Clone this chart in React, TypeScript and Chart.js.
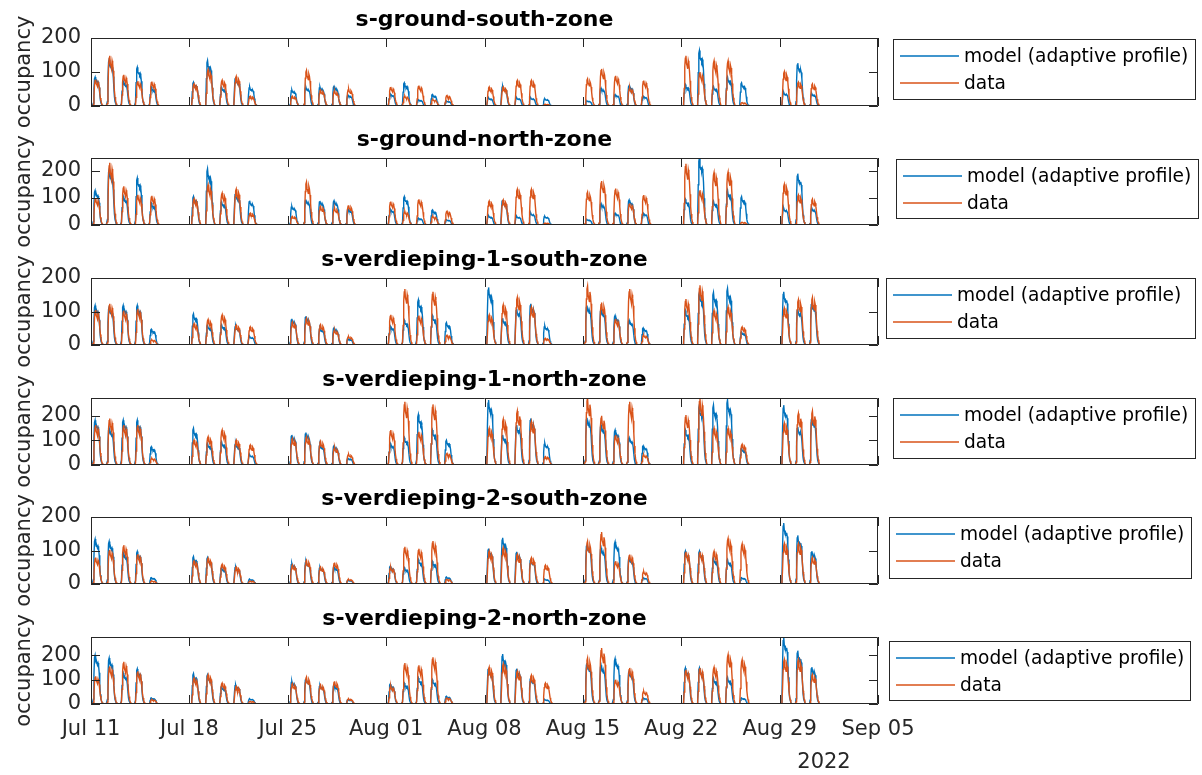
import React, { useEffect, useRef } from "react";
import { Chart, registerables } from "chart.js";

Chart.register(...registerables);

// ---------------- data ----------------
const panelTitles = [
  "s-ground-south-zone",
  "s-ground-north-zone",
  "s-verdieping-1-south-zone",
  "s-verdieping-1-north-zone",
  "s-verdieping-2-south-zone",
  "s-verdieping-2-north-zone",
];
const seriesLabels = ["model (adaptive profile)", "data"];
const yAxisLabel = "occupancy";
const xTickLabels = ["Jul 11", "Jul 18", "Jul 25", "Aug 01", "Aug 08", "Aug 15", "Aug 22", "Aug 29", "Sep 05"];
const yearLabel = "2022";
const yTickStep = 100;
const yLimits = [200, 248, 200, 272, 200, 275];

// day index (days since Jul 11) of each working day that has occupancy
const workDays = [0, 1, 2, 3, 4, 7, 8, 9, 10, 11, 14, 15, 16, 17, 18, 21, 22, 23, 24, 25, 28, 29, 30, 31, 32, 35, 36, 37, 38, 39, 42, 43, 44, 45, 46, 49, 50, 51];

// typical hourly shape of a day (fraction of that day's peak), read from the humps
const hourProfileModel = [0, 0, 0, 0, 0.1, 0.6, 0.95, 1.0, 0.88, 0.84, 0.85, 0.8, 0.84, 0.78, 0.64, 0.4, 0.2, 0.1, 0.06, 0.03, 0, 0, 0, 0];
const hourProfileData = [0, 0, 0, 0, 0.05, 0.35, 0.78, 0.95, 1.0, 0.84, 0.8, 0.74, 0.9, 0.84, 0.7, 0.5, 0.3, 0.18, 0.1, 0.05, 0, 0, 0, 0];

// daily peaks per panel
const groundSouthModel = [85, 136, 73, 114, 56, 70, 134, 56, 84, 56, 47, 55, 56, 58, 32, 36, 68, 19, 34, 15, 24, 58, 24, 24, 21, 15, 53, 34, 60, 29, 63, 163, 58, 86, 68, 40, 126, 36];
const groundSouthData = [78, 148, 92, 73, 72, 65, 107, 76, 87, 29, 29, 105, 47, 44, 50, 56, 29, 60, 19, 31, 56, 56, 75, 75, 5, 80, 109, 89, 53, 75, 148, 100, 133, 133, 10, 101, 70, 65];

const groundNorthModel = [128, 205, 106, 174, 81, 106, 208, 87, 118, 90, 69, 94, 89, 90, 59, 59, 105, 26, 56, 20, 34, 93, 32, 44, 32, 20, 80, 44, 93, 44, 95, 248, 89, 129, 105, 62, 190, 62];
const groundNorthData = [100, 230, 143, 112, 108, 97, 149, 118, 133, 44, 32, 159, 69, 62, 73, 87, 50, 95, 32, 51, 89, 93, 132, 132, 7, 122, 163, 135, 80, 111, 227, 129, 194, 196, 10, 151, 111, 96];

const v1SouthModel = [118, 113, 118, 118, 47, 93, 59, 61, 57, 25, 78, 86, 49, 51, 18, 57, 74, 135, 88, 67, 172, 80, 108, 123, 57, 118, 106, 88, 74, 51, 103, 157, 157, 169, 39, 159, 108, 127];
const v1SouthData = [105, 123, 103, 108, 15, 64, 76, 90, 59, 54, 69, 80, 61, 44, 25, 90, 167, 88, 159, 29, 90, 120, 142, 113, 20, 176, 127, 78, 167, 29, 137, 178, 103, 113, 54, 110, 135, 142];

const v1NorthModel = [182, 149, 182, 182, 74, 149, 88, 95, 88, 41, 122, 132, 81, 78, 27, 88, 111, 205, 142, 101, 264, 122, 162, 189, 88, 192, 162, 142, 111, 78, 142, 243, 243, 264, 68, 243, 155, 192];
const v1NorthData = [162, 189, 162, 162, 27, 101, 115, 142, 101, 81, 108, 115, 97, 70, 43, 142, 257, 135, 246, 47, 149, 186, 219, 176, 34, 272, 200, 122, 257, 41, 203, 270, 149, 149, 84, 169, 209, 219];

const v2SouthModel = [134, 127, 94, 97, 19, 82, 79, 49, 51, 14, 61, 66, 49, 51, 11, 53, 49, 73, 68, 21, 106, 138, 96, 73, 14, 118, 108, 126, 78, 19, 98, 98, 78, 73, 19, 182, 145, 98];
const v2SouthData = [79, 102, 116, 89, 9, 69, 77, 59, 51, 9, 57, 71, 51, 64, 14, 49, 111, 105, 128, 14, 98, 108, 88, 78, 56, 128, 155, 68, 88, 37, 96, 96, 98, 136, 120, 120, 120, 80];

const v2NorthModel = [200, 189, 127, 144, 25, 125, 120, 73, 79, 21, 93, 103, 75, 77, 18, 82, 86, 107, 100, 32, 148, 205, 145, 107, 18, 168, 159, 186, 134, 25, 148, 148, 107, 110, 25, 274, 219, 151];
const v2NorthData = [114, 155, 173, 134, 18, 107, 120, 86, 73, 11, 84, 111, 79, 93, 21, 73, 168, 159, 192, 25, 151, 164, 134, 118, 86, 189, 230, 100, 148, 52, 141, 148, 151, 203, 182, 182, 182, 121];

const modelPeaks = [groundSouthModel, groundNorthModel, v1SouthModel, v1NorthModel, v2SouthModel, v2NorthModel];
const dataPeaks = [groundSouthData, groundNorthData, v1SouthData, v1NorthData, v2SouthData, v2NorthData];

// ---------------- layout / style ----------------
const W = 1202;
const H = 775;
const PLOT_LEFT = 91;
const PLOT_RIGHT = 878;
const TITLE_SPACE = 38;
const plotTops = [38, 158, 278, 398, 517, 637];
const plotHeights = [68, 67, 67, 67, 67, 67];
const legendBoxes = [
  [893, 39, 1196, 100],
  [896, 159, 1199, 219],
  [886, 278, 1196, 339],
  [893, 398, 1196, 459],
  [889, 517, 1192, 579],
  [889, 641, 1191, 701],
];
const FONT = '"DejaVu Sans", "Liberation Sans", sans-serif';
const BLUE = "#0072BD";
const ORANGE = "#D95319";
const AXIS_COLOR = "#262626";
const TICK_LEN = 9;

function buildSeries(peaks: number[], profile: number[]) {
  const pts: { x: number; y: number }[] = [];
  const lastDay = workDays[workDays.length - 1] + 1;
  for (let d = 0; d < lastDay; d++) {
    const k = workDays.indexOf(d);
    for (let h = 0; h < 24; h++) {
      pts.push({ x: d + h / 24, y: k >= 0 ? peaks[k] * profile[h] : 0 });
    }
  }
  pts.push({ x: lastDay, y: 0 });
  return pts;
}

function Panel({ index }: { index: number }) {
  const ref = useRef<HTMLCanvasElement>(null);
  const isLast = index === panelTitles.length - 1;
  const canvasTop = plotTops[index] - TITLE_SPACE;
  const plotH = plotHeights[index];
  const xAxisH = isLast ? 50 : 30;
  const canvasH = isLast ? H - canvasTop : TITLE_SPACE + plotH + xAxisH;
  const padBottom = canvasH - TITLE_SPACE - plotH - xAxisH;

  useEffect(() => {
    const canvas = ref.current;
    if (!canvas) return;

    const framePlugin = {
      id: "axesFrame",
      afterDatasetsDraw(chart: any) {
        const { ctx, chartArea } = chart;
        const { left, right, top, bottom } = chartArea;
        const xs = chart.scales.x;
        const ys = chart.scales.y;
        ctx.save();
        ctx.strokeStyle = AXIS_COLOR;
        ctx.lineWidth = 1;
        ctx.beginPath();
        ctx.rect(left + 0.5, top + 0.5, right - left - 1, bottom - top - 1);
        xs.ticks.forEach((t: any) => {
          const px = Math.round(xs.getPixelForValue(t.value)) + 0.5;
          ctx.moveTo(px, bottom);
          ctx.lineTo(px, bottom - TICK_LEN);
          ctx.moveTo(px, top);
          ctx.lineTo(px, top + TICK_LEN);
        });
        ys.ticks.forEach((t: any) => {
          const py = Math.round(ys.getPixelForValue(t.value)) + 0.5;
          ctx.moveTo(left, py);
          ctx.lineTo(left + TICK_LEN, py);
          ctx.moveTo(right, py);
          ctx.lineTo(right - TICK_LEN, py);
        });
        ctx.stroke();
        ctx.restore();
      },
    };

    const legendPlugin = {
      id: "boxLegend",
      afterDraw(chart: any) {
        const { ctx } = chart;
        const [l, t, r, b] = legendBoxes[index];
        const top = t - canvasTop;
        const bottom = b - canvasTop;
        ctx.save();
        ctx.fillStyle = "#ffffff";
        ctx.fillRect(l, top, r - l, bottom - top);
        ctx.strokeStyle = AXIS_COLOR;
        ctx.lineWidth = 1;
        ctx.strokeRect(l + 0.5, top + 0.5, r - l - 1, bottom - top - 1);
        const rows = [17, 44];
        chart.data.datasets.forEach((ds: any, i: number) => {
          const cy = top + rows[i];
          ctx.strokeStyle = ds.borderColor;
          ctx.lineWidth = 1.3;
          ctx.beginPath();
          ctx.moveTo(l + 7, cy);
          ctx.lineTo(l + 66, cy);
          ctx.stroke();
          ctx.fillStyle = "#000000";
          ctx.font = `18.6px ${FONT}`;
          ctx.textAlign = "left";
          ctx.textBaseline = "middle";
          ctx.fillText(ds.label, l + 71, cy + 1);
        });
        if (isLast) {
          ctx.fillStyle = AXIS_COLOR;
          ctx.font = `21px ${FONT}`;
          ctx.textAlign = "center";
          ctx.textBaseline = "alphabetic";
          ctx.fillText(yearLabel, chart.chartArea.right - 54, chart.chartArea.bottom + 64);
        }
        ctx.restore();
      },
    };

    const chart = new Chart(canvas, {
      type: "line",
      data: {
        datasets: [
          {
            label: seriesLabels[0],
            data: buildSeries(modelPeaks[index], hourProfileModel),
            borderColor: BLUE,
            backgroundColor: BLUE,
            borderWidth: 1.4,
            pointRadius: 0,
            tension: 0,
            order: 2,
          },
          {
            label: seriesLabels[1],
            data: buildSeries(dataPeaks[index], hourProfileData),
            borderColor: ORANGE,
            backgroundColor: ORANGE,
            borderWidth: 1.4,
            pointRadius: 0,
            tension: 0,
            order: 1,
          },
        ],
      },
      options: {
        animation: false,
        responsive: false,
        devicePixelRatio: 1,
        events: [],
        layout: {
          padding: { left: 0, top: 0, right: W - PLOT_RIGHT, bottom: padBottom },
        },
        plugins: {
          legend: { display: false },
          tooltip: { enabled: false },
          title: {
            display: true,
            text: panelTitles[index],
            fullSize: false,
            color: "#000000",
            font: { family: FONT, size: 22, weight: "bold" },
            padding: { top: 7.2, bottom: 4.4 },
          },
        },
        scales: {
          x: {
            type: "linear",
            min: 0,
            max: (xTickLabels.length - 1) * 7,
            grid: { display: false, drawTicks: false },
            border: { display: false },
            ticks: {
              display: isLast,
              stepSize: 7,
              autoSkip: false,
              maxRotation: 0,
              minRotation: 0,
              padding: 13,
              color: AXIS_COLOR,
              font: { family: FONT, size: 21 },
              callback: (_v: any, i: number) => xTickLabels[i],
            },
            afterFit: (s: any) => {
              s.height = xAxisH;
            },
          },
          y: {
            type: "linear",
            min: 0,
            max: yLimits[index],
            grid: { display: false, drawTicks: false },
            border: { display: false },
            ticks: {
              stepSize: yTickStep,
              includeBounds: false,
              padding: 10,
              color: AXIS_COLOR,
              font: { family: FONT, size: 21 },
            },
            title: {
              display: true,
              text: yAxisLabel,
              color: AXIS_COLOR,
              font: { family: FONT, size: 21 },
              padding: { top: 12.4, bottom: 0 },
            },
            afterFit: (s: any) => {
              s.width = PLOT_LEFT;
            },
          },
        },
      } as any,
      plugins: [framePlugin, legendPlugin],
    });
    return () => chart.destroy();
  }, [index]);

  return (
    <canvas
      ref={ref}
      width={W}
      height={canvasH}
      style={{ position: "absolute", left: 0, top: canvasTop, width: W, height: canvasH, display: "block" }}
    />
  );
}

export default function App() {
  useEffect(() => {
    document.body.style.margin = "0";
  }, []);
  return (
    <div style={{ position: "fixed", left: 0, top: 0, width: W, height: H, background: "#ffffff", overflow: "hidden" }}>
      {panelTitles.map((_, i) => (
        <Panel key={i} index={i} />
      ))}
    </div>
  );
}
